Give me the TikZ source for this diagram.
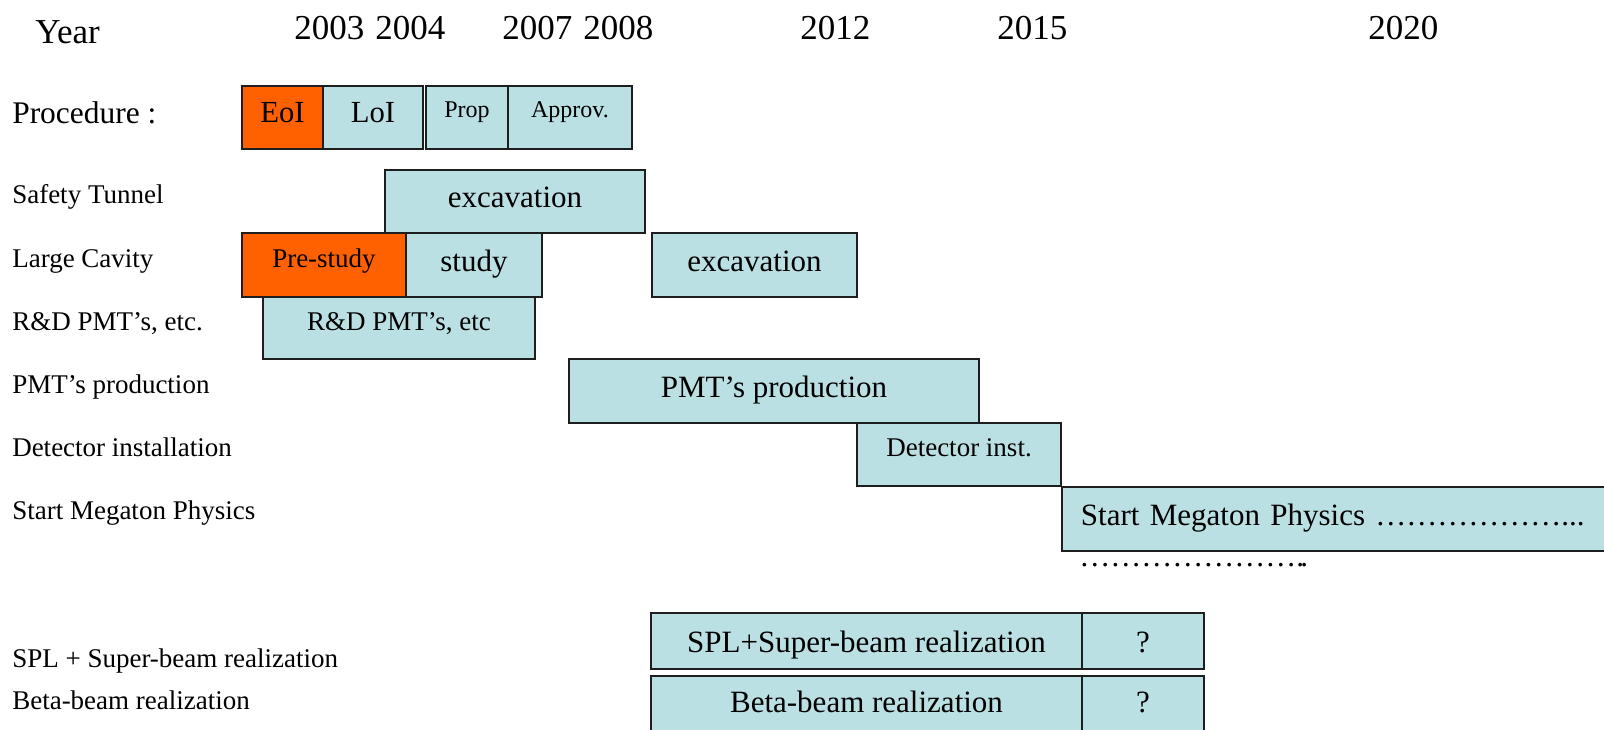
\documentclass[tikz,border=0pt]{standalone}
\usepackage{fontspec}
\setmainfont{Liberation Serif}
\definecolor{barblue}{RGB}{187,224,227}
\definecolor{barorange}{RGB}{255,96,0}
\definecolor{barline}{RGB}{30,30,30}

\begin{document}
\begin{tikzpicture}
[x=0.75pt,y=-0.75pt,
 bardecorate/.style={shape=rectangle,draw=barline,line width=1.4pt,inner sep=0pt},%
 bluebar/.style={fill=barblue},%
 orangebar/.style={fill=barorange},%
 bigtext/.style={font=\fontsize{23.25}{26}\selectfont,text height=16pt,text depth=6.5pt},%
 lowtext/.style={font=\fontsize{23.25}{26}\selectfont,text height=20pt,text depth=3pt},%
 smalltext/.style={font=\fontsize{20.25}{24}\selectfont,text height=14pt,text depth=11pt},%
 midtext/.style={font=\fontsize{23}{26}\selectfont,text height=16pt,text depth=8pt},%
 toptext/.style={font=\fontsize{18}{22}\selectfont,text height=12pt,text depth=12pt},%
 labeldecorate/.style={anchor=base west,inner sep=0pt,font=\fontsize{20.25}{24}\selectfont},%
 yeardecorate/.style={anchor=base west,inner sep=0pt,font=\fontsize{26.25}{30}\selectfont}]
\fill[white] (0,0) rectangle (1604,729);
\useasboundingbox (0,0) rectangle (1604,729);
%% year axis
\node (yearlabel) [yeardecorate] at (35,43) {Year};
\foreach \nodename/\x/\txt in {
  y2003/294/2003, y2004/375/2004, y2007/502/2007, y2008/583/2008,
  y2012/800/2012, y2015/997/2015, y2020/1368/2020} {
  \node (\nodename) at (\x,39) [yeardecorate] {\txt};
}
%% row labels
\node (procedure) [labeldecorate,font=\fontsize{23.6}{28}\selectfont] at (12,123) {Procedure :};
\foreach \nodename/\y/\txt in {
  tunnellabel/203/Safety Tunnel, cavitylabel/267/Large Cavity,
  rndlabel/330/{R\&D PMT's, etc.}, pmtlabel/393/PMT's production,
  detectorlabel/456/Detector installation, megatonlabel/519/Start Megaton Physics,
  spllabel/667/SPL + Super-beam realization, betalabel/709/Beta-beam realization} {
  \node (\nodename) at (12,\y) [labeldecorate] {\txt};
}
%% bars: name / left / right / top / bottom / fill / text
\foreach \nodename/\xa/\xb/\ya/\yb/\fillkind/\textkind/\txt in {
  eoi/242/323/86/149/orangebar/midtext/EoI,
  loi/323/423/86/149/bluebar/midtext/LoI,
  prop/426/508/86/149/bluebar/toptext/Prop,
  approv/508/632/86/149/bluebar/toptext/Approv.,
  tunnel/385/645/170/233/bluebar/bigtext/excavation,
  prestudy/242/406/233/297/orangebar/smalltext/Pre-study,
  study/406/542/233/297/bluebar/bigtext/study,
  cavity/652/857/233/297/bluebar/bigtext/excavation,
  rnd/263/535/297/359/bluebar/smalltext/{R\&D PMT's, etc},
  pmt/569/979/359/423/bluebar/bigtext/PMT's production,
  detector/857/1061/423/486/bluebar/smalltext/Detector inst.,
  spl/651/1082/613/669/bluebar/lowtext/SPL+Super-beam realization,
  splq/1082/1204/613/669/bluebar/lowtext/?,
  beta/651/1082/676/736/bluebar/bigtext/Beta-beam realization,
  betaq/1082/1204/676/736/bluebar/bigtext/?} {
  \pgfmathsetmacro{\w}{(\xb-\xa)*0.75}
  \pgfmathsetmacro{\h}{(\yb-\ya)*0.75}
  \node (\nodename) at ({(\xa+\xb)/2},{(\ya+\yb)/2})
    [bardecorate,\fillkind,\textkind,minimum width=\w pt,minimum height=\h pt] {\txt};
}
%% last bar runs off the page
\node (megaton) at (1061,486)
  [bardecorate,bluebar,bigtext,anchor=north west,minimum height=48pt,
   inner xsep=14.25pt,text width=390.75pt,align=left]
  {\mbox{Start Megaton Physics …{}…{}…{}…{}…{}…{}...}};
\node (megatondots) at (1079,566)
  [anchor=base west,inner sep=0pt,font=\fontsize{23.25}{26}\selectfont]
  {…{}…{}…{}…{}…{}…{}…{}.\kern-0.12em.};
\end{tikzpicture}
\end{document}
